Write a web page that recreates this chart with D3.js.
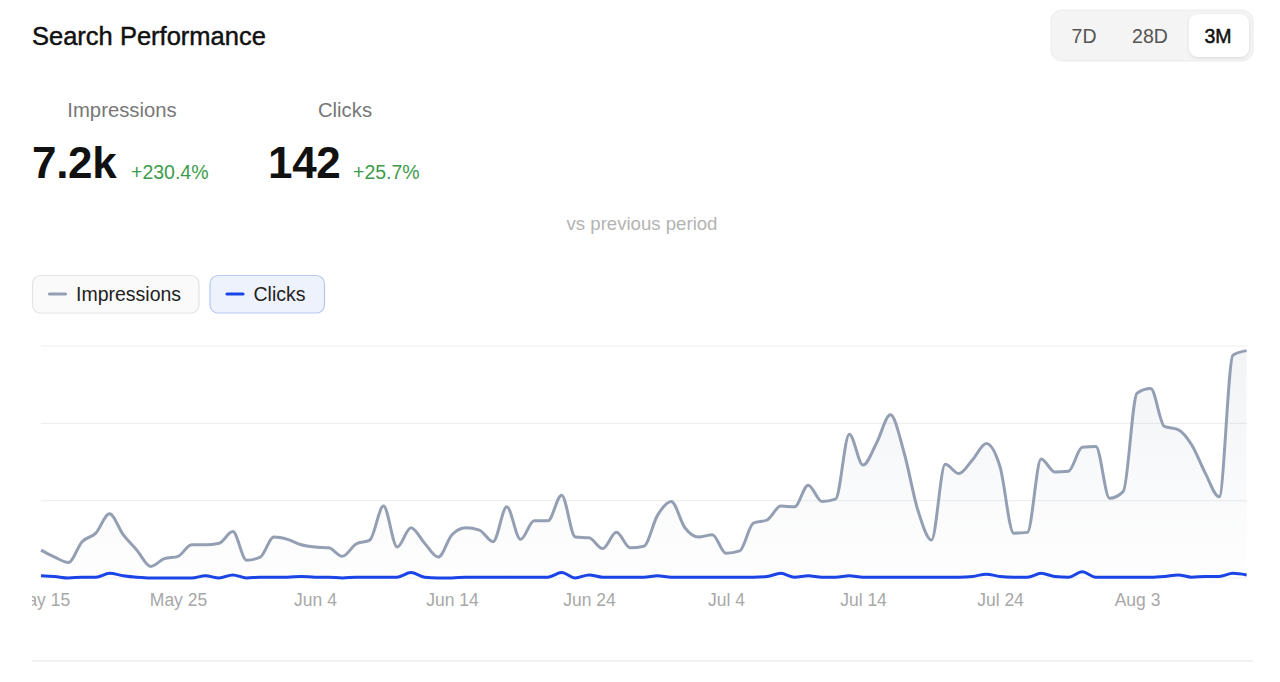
<!DOCTYPE html>
<html>
<head>
<meta charset="utf-8">
<script src="https://cdn.jsdelivr.net/npm/d3@7"></script>
<style>
body{margin:0;background:#fff;font-family:"Liberation Sans",Arial,Helvetica,sans-serif}
</style>
</head>
<body>
<div id="chart"></div>
<script>
// range toggle labels
var rangeLabels = ["7D", "28D", "3M"];
var activeRange = "3M";
// summary figures
var statLabels = ["Impressions", "Clicks"];
var statValues = ["7.2k", "142"];
var statChanges = ["+230.4%", "+25.7%"];
// series names + colours
var seriesNames = ["Impressions", "Clicks"];
var seriesColors = ["#949fb3", "#1a44e6"];
// first day of the daily series
var startDate = new Date(2024, 4, 15);
// daily impressions, May 15 -> Aug 11
var impressions = [
	36,27,20,47,58,83,56,36,15,25,
	28,43,43,45,60,23,27,53,50,43,
	40,39,28,44,49,93,40,65,45,27,
	56,65,62,47,92,50,74,74,107,53,
	52,38,59,39,41,81,99,65,53,56,
	32,35,71,75,93,92,120,99,102,186,
	146,175,211,162,88,49,147,135,153,174,
	144,58,59,154,137,138,169,170,103,112,
	239,245,196,192,172,135,105,288,294
];
// daily clicks
var clicks = [
	3,2,0,1,1,6,3,1,0,0,
	0,0,3,0,4,0,1,1,1,2,
	1,1,0,1,1,1,1,7,1,0,
	0,1,1,1,1,1,1,1,7,0,
	4,1,1,1,1,3,1,1,1,1,
	1,1,1,2,6,1,3,1,1,3,
	1,1,1,1,1,1,1,1,2,5,
	2,1,1,6,2,1,8,1,1,1,
	1,1,2,4,1,2,2,6,4
];
// y grid values
var yTicks = [0, 100, 200, 300];

var W = 1280, H = 682;
var svg = d3.select("#chart").append("svg")
	.attr("width", W)
	.attr("height", H);

var defs = svg.append("defs");
var shadow = defs.append("filter").attr("id", "btnShadow")
	.attr("x", "-20%").attr("y", "-20%").attr("width", "140%").attr("height", "160%");
shadow.append("feDropShadow").attr("dx", 0).attr("dy", 1).attr("stdDeviation", 1.5)
	.attr("flood-color", "#000").attr("flood-opacity", 0.12);

var grad = defs.append("linearGradient").attr("id", "areaFill")
	.attr("x1", 0).attr("y1", 0).attr("x2", 0).attr("y2", 1);
grad.append("stop").attr("offset", "0%").attr("stop-color", "#949fb3").attr("stop-opacity", 0.12);
grad.append("stop").attr("offset", "100%").attr("stop-color", "#949fb3").attr("stop-opacity", 0.01);

defs.append("clipPath").attr("id", "cardClip")
	.append("rect").attr("x", 32).attr("y", 0).attr("width", 1221).attr("height", H);

// title (stroke fakes a medium weight)
svg.append("text")
	.attr("x", 32).attr("y", 45)
	.attr("font-size", 25.5)
	.attr("fill", "#111").attr("stroke", "#111").attr("stroke-width", 0.45)
	.text("Search Performance");

// range toggle
svg.append("rect")
	.attr("x", 1051).attr("y", 10).attr("width", 202).attr("height", 51)
	.attr("rx", 11).attr("fill", "#f4f4f4").attr("stroke", "#ececec");
var btnX = d3.scaleBand().domain(rangeLabels).range([1054, 1250]).paddingInner(0.03);
svg.selectAll("rect.btn").data(rangeLabels.filter(function(d){ return d == activeRange; }))
	.enter().append("rect").attr("class", "btn")
	.attr("x", function(d){ return btnX(d) + 3; })
	.attr("y", 14).attr("width", btnX.bandwidth() - 4).attr("height", 43)
	.attr("rx", 9).attr("fill", "#fff")
	.attr("filter", "url(#btnShadow)");
var btnCenters = {"7D": 1084, "28D": 1150, "3M": 1218};
svg.selectAll("text.btn").data(rangeLabels).enter().append("text")
	.attr("class", "btn")
	.attr("x", function(d){ return btnCenters[d]; })
	.attr("y", 43)
	.attr("text-anchor", "middle")
	.attr("font-size", 19.5)
	.attr("fill", function(d){ return d == activeRange ? "#111" : "#555"; })
	.attr("stroke", function(d){ return d == activeRange ? "#111" : "none"; })
	.attr("stroke-width", 0.5)
	.text(function(d){ return d; });

// stats
var statLabelX = [122, 345];
var statValueX = [32, 268];
var statChangeX = [131, 353];
statLabels.forEach(function(lbl, i) {
	svg.append("text")
		.attr("x", statLabelX[i]).attr("y", 117)
		.attr("text-anchor", "middle")
		.attr("font-size", 20.3).attr("fill", "#777")
		.text(lbl);
	svg.append("text")
		.attr("x", statValueX[i]).attr("y", 178)
		.attr("font-size", 44).attr("font-weight", 700)
		.attr("letter-spacing", -0.3)
		.attr("fill", "#111")
		.text(statValues[i]);
	svg.append("text")
		.attr("x", statChangeX[i]).attr("y", 179)
		.attr("font-size", 19.5).attr("fill", "#3d9b4c")
		.text(statChanges[i]);
});
svg.append("text")
	.attr("x", 642).attr("y", 230)
	.attr("text-anchor", "middle")
	.attr("font-size", 18.6).attr("fill", "#b3b3b3")
	.text("vs previous period");

// legend pills
var pillX = [32, 209.5], pillW = [166.5, 114.5];
var pillFill = ["#fafafb", "#eef2fd"], pillStroke = ["#e2e3e6", "#b8c7f2"];
seriesNames.forEach(function(name, i) {
	var g = svg.append("g").attr("transform", "translate(" + pillX[i] + ",275)");
	g.append("rect").attr("x", 0.5).attr("y", 0.5)
		.attr("width", pillW[i]).attr("height", 37.5).attr("rx", 8)
		.attr("fill", pillFill[i]).attr("stroke", pillStroke[i]).attr("stroke-width", 1.2);
	g.append("line").attr("x1", 17.5).attr("x2", 33.5).attr("y1", 19).attr("y2", 19)
		.attr("stroke", seriesColors[i]).attr("stroke-width", 3.2).attr("stroke-linecap", "round");
	g.append("text").attr("x", 44).attr("y", 26)
		.attr("font-size", 19.5).attr("fill", "#222")
		.text(name);
});

// chart
var dates = impressions.map(function(v, i){ return d3.timeDay.offset(startDate, i); });
var x = d3.scaleTime()
	.domain([dates[0], dates[dates.length - 1]])
	.range([41, 1246.6]);
var y = d3.scaleLinear().domain([0, 300]).range([578, 346]);

var plot = svg.append("g").attr("clip-path", "url(#cardClip)");

// gridlines
plot.selectAll("line.grid").data(yTicks).enter().append("line")
	.attr("class", "grid")
	.attr("x1", 41).attr("x2", 1247)
	.attr("y1", function(d){ return y(d); })
	.attr("y2", function(d){ return y(d); })
	.attr("stroke", "#efefef").attr("stroke-width", 1.2);

var area = d3.area()
	.x(function(d, i){ return x(dates[i]); })
	.y0(y(0))
	.y1(function(d){ return y(d); })
	.curve(d3.curveMonotoneX);
var line = d3.line()
	.x(function(d, i){ return x(dates[i]); })
	.y(function(d){ return y(d); })
	.curve(d3.curveMonotoneX);

plot.append("path").datum(impressions)
	.attr("d", area).attr("fill", "url(#areaFill)");
plot.append("path").datum(impressions)
	.attr("d", line).attr("fill", "none")
	.attr("stroke", seriesColors[0]).attr("stroke-width", 3)
	.attr("stroke-linejoin", "round");
plot.append("path").datum(clicks)
	.attr("d", line).attr("fill", "none")
	.attr("stroke", seriesColors[1]).attr("stroke-width", 3)
	.attr("stroke-linejoin", "round");

// x axis labels, every 10 days
var tickDates = d3.timeDay.every(1).range(dates[0], d3.timeDay.offset(dates[dates.length - 1], 1))
	.filter(function(d, i){ return i % 10 == 0; });
var xAxis = d3.axisBottom(x)
	.tickValues(tickDates)
	.tickFormat(d3.timeFormat("%b %-d"))
	.tickSize(0).tickPadding(0);
var ax = plot.append("g").attr("transform", "translate(0,588)").call(xAxis);
ax.select(".domain").remove();
ax.selectAll("text")
	.attr("font-family", "Liberation Sans, Arial, sans-serif")
	.attr("font-size", 17.5).attr("fill", "#a8a8a8")
	.attr("dy", "1em");

// bottom divider
svg.append("line")
	.attr("x1", 32).attr("x2", 1253).attr("y1", 661).attr("y2", 661)
	.attr("stroke", "#ececec").attr("stroke-width", 1.5);
</script>
</body>
</html>
